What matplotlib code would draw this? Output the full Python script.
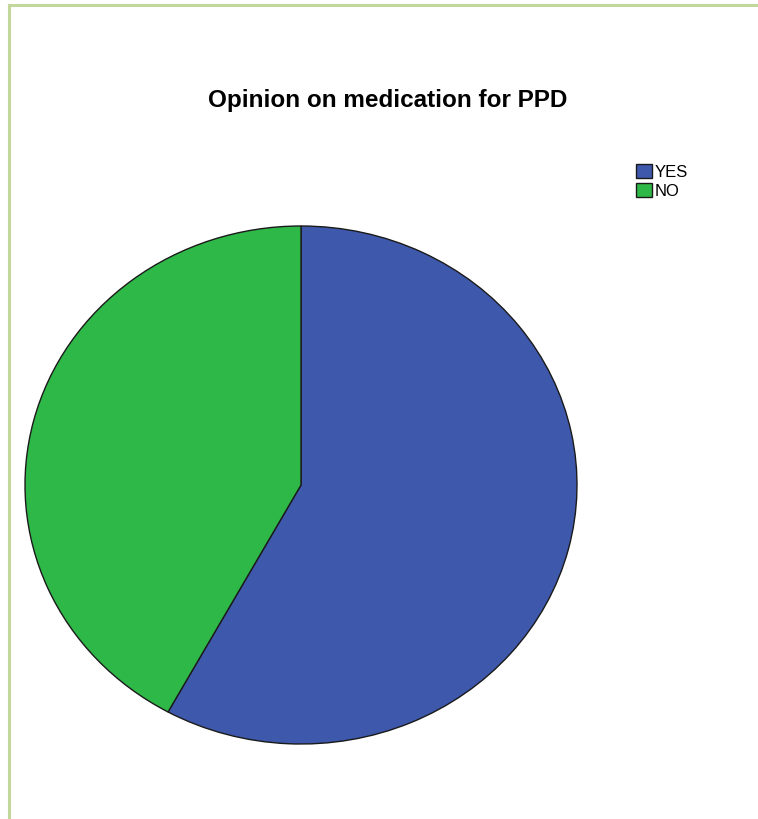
import matplotlib.pyplot as plt
from matplotlib.lines import Line2D

labels = ["YES", "NO"]
values = [58, 42]
colors = ["#3e58ac", "#2eb848"]

W, H = 758, 819
fig = plt.figure(figsize=(W / 100, H / 100), dpi=100)
plt.rcParams['font.family'] = ['Liberation Sans', 'DejaVu Sans']

# green frame (left and top edges only visible)
fig.add_artist(Line2D([9 / W, 9 / W], [0, 1 - 5 / H], color="#c3d69b", lw=2.2, transform=fig.transFigure))
fig.add_artist(Line2D([9 / W, 1], [1 - 5 / H, 1 - 5 / H], color="#c3d69b", lw=2.2, transform=fig.transFigure))

ax = fig.add_axes([25 / W, (H - 744) / H, 552 / W, 518 / H])
wedges, _ = ax.pie(values, colors=colors, startangle=90, counterclock=False,
                   wedgeprops=dict(edgecolor="#1a1a1a", linewidth=1.0))
ax.set_aspect("auto")
ax.set_xlim(-1.0, 1.0)
ax.set_ylim(-1.0, 1.0)
ax.axis("off")

fig.text(388 / W, 1 - 100 / H, "Opinion on medication for PPD", ha="center", va="center",
         fontsize=17.5, fontweight="bold")

fig.legend(wedges, labels, loc="upper left", bbox_to_anchor=(636 / W, 1 - 164 / H),
           frameon=False, fontsize=12, handlelength=0.95, handleheight=0.9,
           handletextpad=0.15, labelspacing=0.2, borderpad=0, borderaxespad=0)

fig.savefig("out.png", dpi=100)
